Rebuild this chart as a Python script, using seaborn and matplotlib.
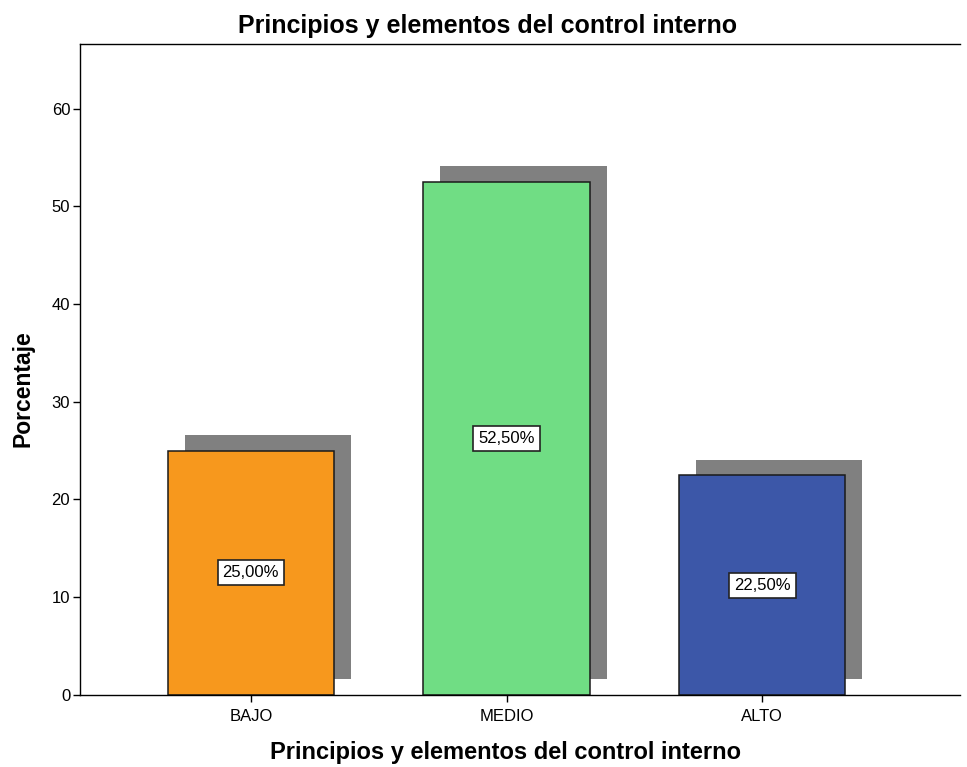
import matplotlib
matplotlib.use("Agg")
import matplotlib.pyplot as plt
import matplotlib.transforms as mtransforms
import seaborn as sns
import pandas as pd

categories = ["BAJO", "MEDIO", "ALTO"]
values = [25.0, 52.5, 22.5]
labels = ["25,00%", "52,50%", "22,50%"]
colors = ["#F7981D", "#70DD84", "#3C57A8"]
yticks = [0, 10, 20, 30, 40, 50, 60]

df = pd.DataFrame({"cat": categories, "val": values})

sns.set_style("white")
plt.rcParams["font.family"] = ["Liberation Sans", "DejaVu Sans"]
plt.rcParams["text.color"] = "black"
plt.rcParams["axes.labelcolor"] = "black"
plt.rcParams["xtick.color"] = "black"
plt.rcParams["ytick.color"] = "black"

fig = plt.figure(figsize=(9.67, 7.67), dpi=100)
ax = fig.add_axes([0.0827, 0.0939, 0.9101, 0.8487])

# shadows
sns.barplot(data=df, x="cat", y="val", order=categories, color="#808080",
            width=0.65, linewidth=0, ax=ax, zorder=1)
shadow_patches = list(ax.patches)
off = mtransforms.offset_copy(ax.transData, fig=fig, x=17, y=15.5, units="dots")
for p in shadow_patches:
    p.set_transform(off)
    p.set_clip_on(True)

# main bars
sns.barplot(data=df, x="cat", y="val", hue="cat", order=categories,
            hue_order=categories, palette=colors, width=0.65,
            edgecolor="#1a1a1a", linewidth=1.1, ax=ax, legend=False,
            saturation=1, zorder=2)

for i, (v, lab) in enumerate(zip(values, labels)):
    ax.text(i, v / 2, lab, ha="center", va="center", fontsize=12,
            color="black", zorder=5,
            bbox=dict(boxstyle="square,pad=0.3", facecolor="white",
                      edgecolor="#222222", linewidth=1.2))

ax.set_xlim(-0.668, 2.773)
ax.set_ylim(0, 66.6)
ax.set_yticks(yticks)
ax.tick_params(axis="both", which="both", direction="out", length=5,
               width=1, labelsize=12, color="black", labelcolor="black",
               left=True, bottom=True)
ax.tick_params(axis="y", pad=2)
ax.tick_params(axis="x", pad=5)

for s in ["left", "bottom", "top"]:
    ax.spines[s].set_visible(True)
    ax.spines[s].set_color("black")
    ax.spines[s].set_linewidth(1)
ax.spines["right"].set_visible(False)

fig.text(0.504, 0.966, "Principios y elementos del control interno",
         fontsize=18, fontweight="bold", ha="center", va="center",
         color="black")
ax.set_xlabel("Principios y elementos del control interno", fontsize=17,
              fontweight="bold", color="black")
ax.xaxis.set_label_coords(0.483, -0.088)
ax.xaxis.label.set_va("center")
ax.set_ylabel("Porcentaje", fontsize=16.5, fontweight="bold", color="black")
ax.yaxis.set_label_coords(-0.065, 0.47)
ax.yaxis.label.set_va("center")

fig.savefig("out.png", dpi=100)
